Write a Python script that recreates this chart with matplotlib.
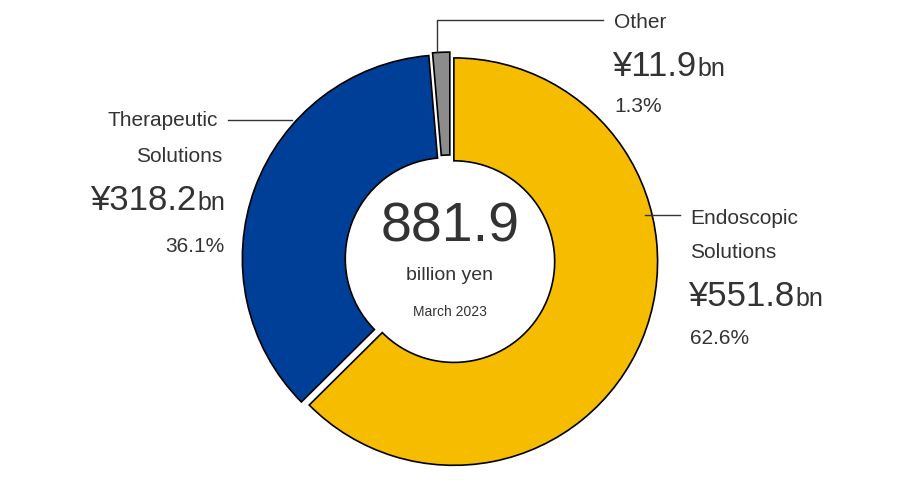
import matplotlib
matplotlib.use("Agg")
import matplotlib.pyplot as plt

segments = ["Endoscopic Solutions", "Therapeutic Solutions", "Other"]
values = [551.8, 318.2, 11.9]
shares = ["62.6%", "36.1%", "1.3%"]
colors = ["#f6bd00", "#003f98", "#8c8c8c"]
total = "881.9"

W, H = 902, 482
fig = plt.figure(figsize=(W / 100, H / 100), dpi=100)
txt = "#333333"
plt.rcParams["font.family"] = "Liberation Sans"

# donut
cx, cy, r = 450, 260, 210
ax = fig.add_axes([(cx - r) / W, (H - cy - r) / H, 2 * r / W, 2 * r / H])
ax.pie(values, colors=colors, startangle=90, counterclock=False,
       explode=[0.02, 0.02, 0.02], radius=0.97,
       wedgeprops=dict(width=0.49, edgecolor="black", linewidth=1.2))
ax.set_xlim(-1, 1)
ax.set_ylim(-1, 1)
ax.set_aspect("auto")
ax.axis("off")

# overlay in pixel coordinates
ov = fig.add_axes([0, 0, 1, 1])
ov.set_xlim(0, W)
ov.set_ylim(H, 0)
ov.axis("off")

ov.text(cx, 228, total, ha="center", va="center", fontsize=40, color=txt)
ov.text(cx, 276, "billion yen", ha="center", va="center", fontsize=14, color=txt)
ov.text(cx, 312, "March 2023", ha="center", va="center", fontsize=10, color=txt)

lk = dict(color=txt, lw=1)
ov.plot([437, 437, 603], [52, 20, 20], **lk)
ov.plot([228, 292], [120, 120], **lk)
ov.plot([645, 680], [215, 215], **lk)

fig.canvas.draw()
rend = fig.canvas.get_renderer()


def amount(x, y, num, ha):
    t = ov.text(x, y, "¥" + num, ha="left", va="baseline", fontsize=25, color=txt)
    bb = t.get_window_extent(rend)
    b = ov.text(0, y, "bn", ha="left", va="baseline", fontsize=18, color=txt)
    bw = b.get_window_extent(rend).width
    tot = bb.width + bw
    x0 = x - tot if ha == "right" else x
    t.set_x(x0)
    b.set_x(x0 + bb.width + 1)


ov.text(614, 22, "Other", ha="left", va="center", fontsize=15, color=txt)
amount(612, 76, "11.9", "left")
ov.text(614, 106, "1.3%", ha="left", va="center", fontsize=15, color=txt)

ov.text(218, 120, "Therapeutic", ha="right", va="center", fontsize=15, color=txt)
ov.text(222, 156, "Solutions", ha="right", va="center", fontsize=15, color=txt)
amount(224, 210, "318.2", "right")
ov.text(224, 246, "36.1%", ha="right", va="center", fontsize=15, color=txt)

ov.text(690, 218, "Endoscopic", ha="left", va="center", fontsize=15, color=txt)
ov.text(690, 252, "Solutions", ha="left", va="center", fontsize=15, color=txt)
amount(688, 306, "551.8", "left")
ov.text(690, 338, "62.6%", ha="left", va="center", fontsize=15, color=txt)

fig.savefig("out.png", dpi=100)
